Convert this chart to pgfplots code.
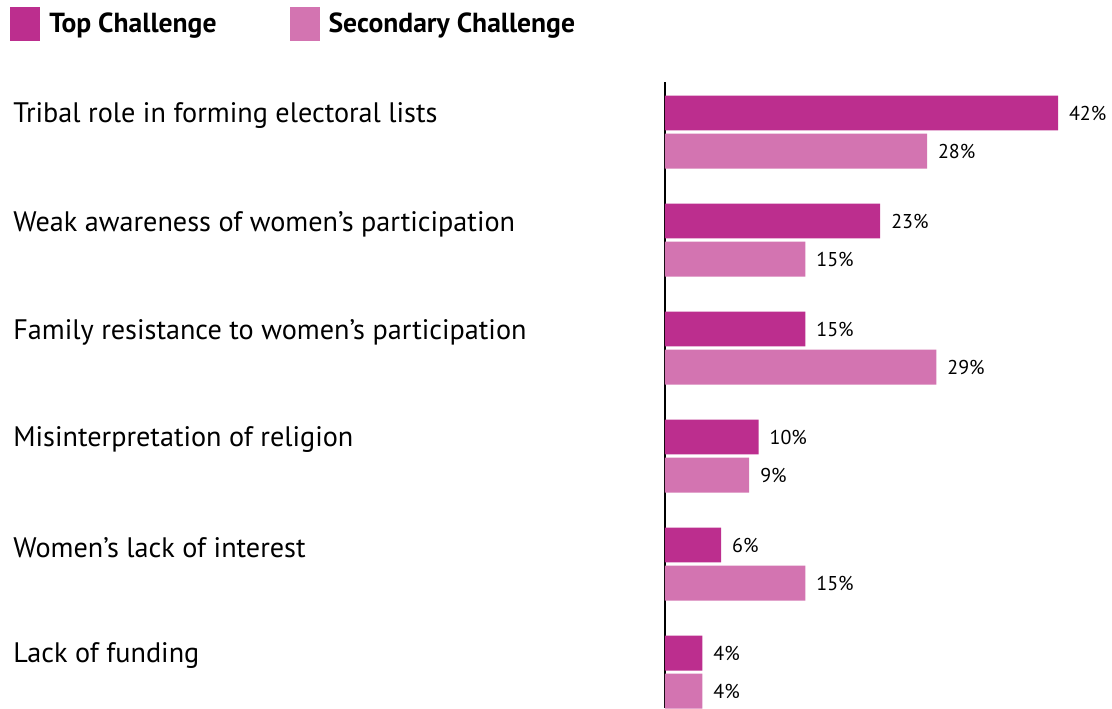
\documentclass[border=0pt]{standalone}
\usepackage{pgfplots}
\pgfplotsset{compat=1.18}
\usepackage{fontspec}
\setmainfont{PT Sans}
\definecolor{topc}{HTML}{BC2E8E}
\definecolor{secc}{HTML}{D374B1}
\begin{document}
\begin{tikzpicture}
\begin{axis}[
  scale only axis, width=220pt, height=313pt,
  xbar, bar width=0.324,
  xmin=0, xmax=47.02, ymin=-0.3333, ymax=5.463,
  enlargelimits=false, clip=false,
  axis x line=none, axis y line=left,
  y axis line style={-, line width=1pt, black},
  ytick={0.176,1.176,2.176,3.176,4.176,5.176},
  yticklabels={Lack of funding, Women’s lack of interest, Misinterpretation of religion, Family resistance to women’s participation, Weak awareness of women’s participation, Tribal role in forming electoral lists},
  major tick length=0pt,
  yticklabel style={anchor=west, inner sep=0pt, xshift=-326pt, yshift=-1.5pt, font=\fontsize{14.1}{16}\selectfont},
  /pgf/number format/assume math mode=true,
  point meta=x,
  nodes near coords={\pgfmathprintnumber{\pgfplotspointmeta}\%},
  nodes near coords style={anchor=west, xshift=2pt, font=\fontsize{10}{12}\selectfont, black},
  legend style={draw=none, fill=none, inner sep=0pt, at={(axis description cs:-1.4886,1.092)}, anchor=west, font=\bfseries\fontsize{13.8}{16}\selectfont, /tikz/every even column/.append style={column sep=32pt}, nodes={inner xsep=4.5pt}},
  legend columns=2,
  legend image code/.code={\fill[#1] (0pt,-8.5pt) rectangle (15pt,8.5pt);},
]
\addplot[fill=topc, draw=none, bar shift=0.176] coordinates {(42,5) (23,4) (15,3) (10,2) (6,1) (4,0)};
\addlegendentry{Top Challenge}
\addplot[fill=secc, draw=none, bar shift=-0.176] coordinates {(28,5) (15,4) (29,3) (9,2) (15,1) (4,0)};
\addlegendentry{Secondary Challenge}
\coordinate (o) at (rel axis cs:0,0);
\end{axis}
\pgfresetboundingbox
\path[use as bounding box] ([xshift=-332.5pt]o) rectangle ++(556pt,354pt);
\end{tikzpicture}
\end{document}
